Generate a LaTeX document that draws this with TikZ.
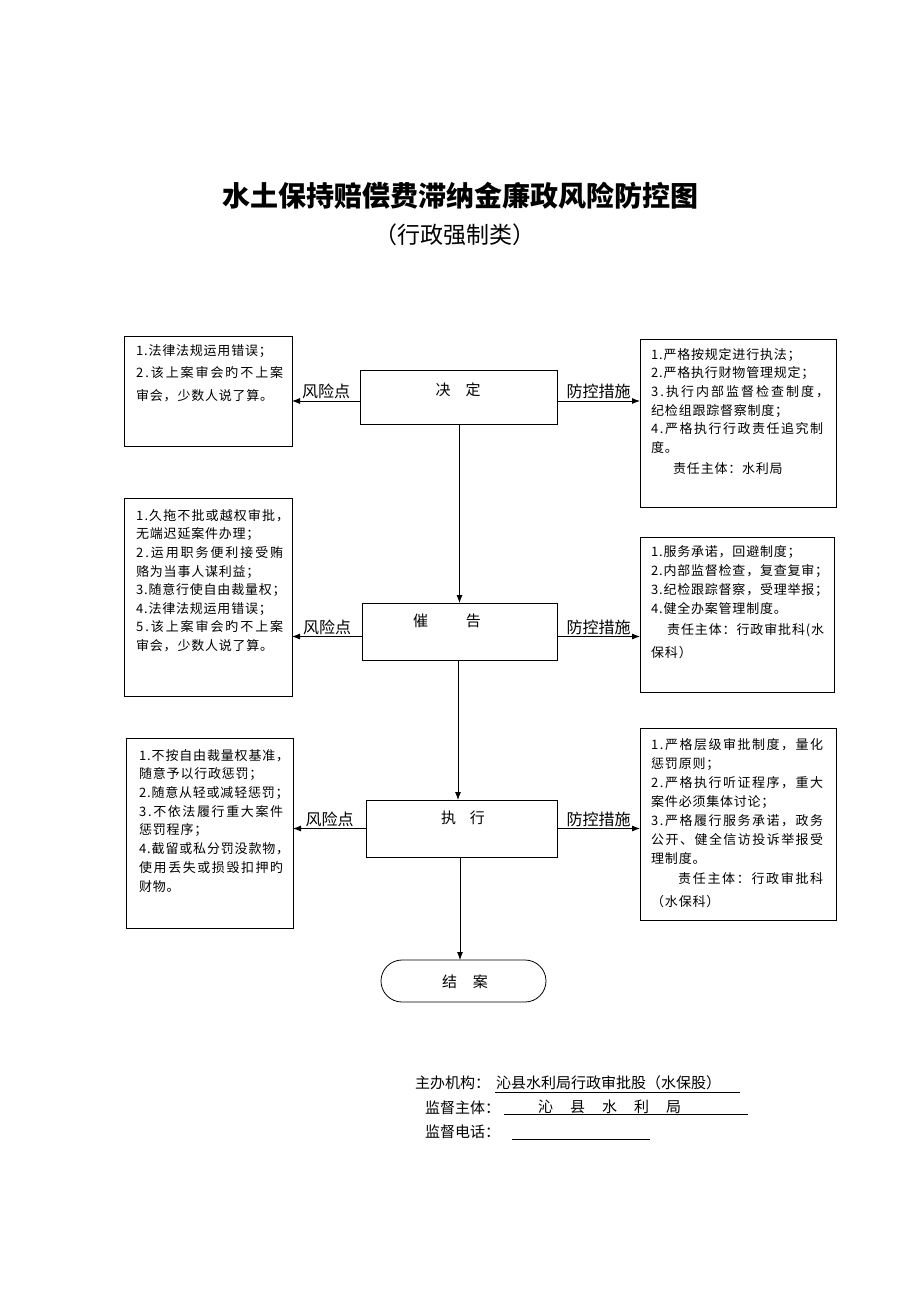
\documentclass[tikz,border=0pt]{standalone}
\usepackage{fontspec}
\setmainfont{Noto Sans CJK SC}
\usetikzlibrary{arrows.meta}
\newcommand{\bxfont}[2]{\fontsize{13}{#1}\selectfont\addfontfeature{LetterSpace=#2}}
% justified line: spread the characters of #2 over width #1
\def\spreadchars#1#2{#1\ifx\relax#2\else\hfill\expandafter\spreadchars\expandafter#2\fi}
\newcommand{\jl}[2]{\hbox to #1{\spreadchars#2\relax}}
\begin{document}
\begin{tikzpicture}[x=1pt,y=-1pt,
  box/.style={draw, line width=0.8pt, rectangle, inner sep=0pt, outer sep=0pt, anchor=north west},
  txt/.style={anchor=north west, inner sep=0pt, align=left},
  lbl/.style={font=\fontsize{16}{16}\selectfont, inner sep=1.5pt},
  step box/.style={draw, line width=0.8pt, rectangle, inner sep=0pt, outer sep=0pt, anchor=north west, font=\fontsize{15}{15}\selectfont},
  arr/.style={line width=0.8pt, -{Latex[length=8pt,width=6pt]}},
  foot/.style={anchor=west, inner sep=0pt, font=\fontsize{15}{15}\selectfont}
]
\useasboundingbox (0,0) rectangle (920,1302);

% title
\node[font=\fontsize{28}{28}\selectfont\bfseries] (title) at (460,196) {水土保持赔偿费滞纳金廉政风险防控图};
\node[font=\fontsize{23}{23}\selectfont] (sub) at (455,235) {（行政强制类）};

% center steps
\node[step box, minimum width=197pt, minimum height=54pt] (D) at (360,370) {};
\node[font=\fontsize{15}{15}\selectfont] (Dt) at (458,390) {决\hspace{15pt}定};
\node[step box, minimum width=195pt, minimum height=57pt] (C) at (362,603) {};
\node[font=\fontsize{15}{15}\selectfont] (Ct) at (447,621) {催\hspace{38pt}告};
\node[step box, minimum width=191pt, minimum height=57pt] (E) at (366,800) {};
\node[font=\fontsize{15}{15}\selectfont] (Et) at (463,818) {执\hspace{14pt}行};
\node[draw, line width=0.8pt, rounded corners=21pt, minimum width=165pt, minimum height=42pt, inner sep=0pt, outer sep=0pt, anchor=north west] (J) at (381,960) {};
\node[font=\fontsize{15}{15}\selectfont] (Jt) at (465,982) {结\hspace{16pt}案};

% side boxes
\node[box, minimum width=168pt, minimum height=110pt] (L1) at (124,336) {};
\node[box, minimum width=196pt, minimum height=168pt] (R1) at (640,339) {};
\node[box, minimum width=168pt, minimum height=198pt] (L2) at (124,498) {};
\node[box, minimum width=194pt, minimum height=155pt] (R2) at (640,537) {};
\node[box, minimum width=167pt, minimum height=190pt] (L3) at (126,738) {};
\node[box, minimum width=196pt, minimum height=192pt] (R3) at (640,728) {};

% texts in side boxes
\node[txt, font=\bxfont{22.5}{6}] (L1t) at (136,344) {1.法律法规运用错误；\\\jl{147pt}{2.该上案审会旳不上案}\\审会，少数人说了算。};
\node[txt, font=\bxfont{18.6}{6}] (R1t) at (651,348) {1.严格按规定进行执法；\\2.严格执行财物管理规定；\\\jl{178pt}{3.执行内部监督检查制度，}\\纪检组跟踪督察制度；\\\jl{172pt}{4.严格执行行政责任追究制}\\度。\\[3pt]\hspace{22pt}责任主体：水利局};
\node[txt, font=\bxfont{18.6}{6}] (L2t) at (136,509) {\jl{153pt}{1.久拖不批或越权审批，}\\无端迟延案件办理；\\\jl{147pt}{2.运用职务便利接受贿}\\赂为当事人谋利益；\\3.随意行使自由裁量权；\\4.法律法规运用错误；\\\jl{147pt}{5.该上案审会旳不上案}\\审会，少数人说了算。};
\node[txt, font=\bxfont{19}{6}] (R2t) at (651,545) {1.服务承诺，回避制度；\\2.内部监督检查，复查复审；\\3.纪检跟踪督察，受理举报；\\4.健全办案管理制度。\\[2pt]\hspace{16pt}\jl{157pt}{责任主体：行政审批科(水}\\[4pt]保科）};
\node[txt, font=\bxfont{18.7}{6}] (L3t) at (139,749) {\jl{150pt}{1.不按自由裁量权基准，}\\随意予以行政惩罚；\\2.随意从轻或减轻惩罚；\\\jl{144pt}{3.不依法履行重大案件}\\惩罚程序；\\\jl{150pt}{4.截留或私分罚没款物，}\\\jl{144pt}{使用丢失或损毁扣押旳}\\财物。};
\node[txt, font=\bxfont{19}{6}] (R3t) at (651,738) {\jl{172pt}{1.严格层级审批制度，量化}\\惩罚原则；\\\jl{172pt}{2.严格执行听证程序，重大}\\案件必须集体讨论；\\\jl{172pt}{3.严格履行服务承诺，政务}\\\jl{172pt}{公开、健全信访投诉举报受}\\理制度。\\[1pt]\hspace{27pt}\jl{145pt}{责任主体：行政审批科}\\[4pt]（水保科）};

% connectors
\draw[arr] ([yshift=-4pt]D.west) -- ([yshift=-4pt]D.west -| L1.east) node[lbl, midway, above] (l1) {风险点};
\draw[arr] ([yshift=-4pt]D.east) -- ([yshift=-4pt]D.east -| R1.west) node[lbl, midway, above] (r1) {防控措施};
\draw[arr] ([yshift=-5pt]C.west) -- ([yshift=-5pt]C.west -| L2.east) node[lbl, midway, above] (l2) {风险点};
\draw[arr] ([yshift=-5pt]C.east) -- ([yshift=-5pt]C.east -| R2.west) node[lbl, midway, above] (r2) {防控措施};
\draw[arr] (E.west) -- (E.west -| L3.east) node[lbl, midway, above] (l3) {风险点};
\draw[arr] (E.east) -- (E.east -| R3.west) node[lbl, midway, above] (r3) {防控措施};
\draw[arr] ([xshift=1pt]D.south) -- ([xshift=1pt]D.south |- C.north);
\draw[arr] ([xshift=-1.5pt]C.south) -- ([xshift=-1.5pt]C.south |- E.north);
\draw[arr] ([xshift=-1.5pt]E.south) -- ([xshift=-1.5pt]E.south |- J.north);

% footer
\node[foot] (f1) at (415,1083) {主办机构：};
\node[foot] (f1v) at (496,1083) {沁县水利局行政审批股（水保股）};
\draw[line width=0.6pt] (495,1092) -- (740,1092);
\node[foot] (f2) at (425,1108) {监督主体：};
\node[foot] (f2v) at (538,1107) {沁\hspace{17pt}县\hspace{17pt}水\hspace{17pt}利\hspace{17pt}局};
\draw[line width=0.6pt] (504,1114) -- (748,1114);
\node[foot] (f3) at (425,1132) {监督电话：};
\draw[line width=0.6pt] (512,1139) -- (650,1139);
\end{tikzpicture}
\end{document}
